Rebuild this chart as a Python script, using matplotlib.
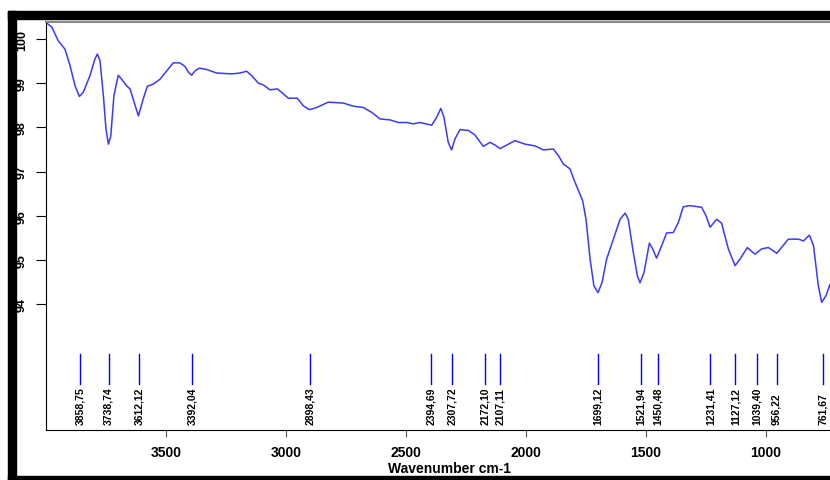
import matplotlib.pyplot as plt
from matplotlib.patches import Rectangle

# espectro (numero de onda em cm-1, transmitancia %)
wavenumber = [3997, 3976, 3949, 3921, 3900, 3879, 3861, 3845, 3817, 3796, 3786, 3775,
              3761, 3750, 3740, 3730, 3717, 3699, 3685, 3664, 3650, 3633, 3615, 3595,
              3578, 3553, 3525, 3497, 3470, 3442, 3421, 3407, 3393, 3379, 3361, 3330,
              3289, 3226, 3192, 3164, 3143, 3115, 3094, 3067, 3036, 3018, 2990, 2953,
              2928, 2903, 2872, 2824, 2761, 2720, 2678, 2643, 2608, 2567, 2532, 2497,
              2469, 2442, 2393, 2372, 2355, 2342, 2324, 2310, 2296, 2275, 2240, 2213,
              2178, 2150, 2129, 2108, 2080, 2046, 2004, 1962, 1928, 1886, 1865, 1844,
              1817, 1796, 1764, 1750, 1733, 1717, 1700, 1683, 1664, 1636, 1608, 1587,
              1574, 1553, 1536, 1525, 1508, 1486, 1472, 1456, 1435, 1414, 1386, 1365,
              1345, 1317, 1268, 1250, 1233, 1205, 1185, 1157, 1129, 1108, 1078, 1046,
              1018, 990, 955, 907, 865, 844, 819, 802, 782, 768, 750, 733]
transmittance = [100.36, 100.27, 99.96, 99.77, 99.40, 98.94, 98.70, 98.79, 99.17, 99.55, 99.66, 99.51,
                 98.72, 97.96, 97.62, 97.81, 98.72, 99.18, 99.09, 98.94, 98.87, 98.57, 98.26, 98.64,
                 98.93, 98.98, 99.09, 99.28, 99.46, 99.46, 99.38, 99.25, 99.18, 99.28, 99.34, 99.31,
                 99.23, 99.21, 99.23, 99.27, 99.17, 99.00, 98.96, 98.85, 98.87, 98.79, 98.66, 98.66,
                 98.49, 98.40, 98.45, 98.57, 98.55, 98.48, 98.45, 98.34, 98.19, 98.17, 98.11, 98.11,
                 98.08, 98.11, 98.05, 98.23, 98.43, 98.23, 97.66, 97.49, 97.74, 97.95, 97.93, 97.83,
                 97.57, 97.66, 97.60, 97.52, 97.60, 97.70, 97.62, 97.58, 97.49, 97.51, 97.36, 97.17,
                 97.06, 96.76, 96.34, 95.92, 95.02, 94.41, 94.26, 94.49, 95.02, 95.47, 95.92, 96.06,
                 95.92, 95.17, 94.64, 94.48, 94.72, 95.38, 95.25, 95.04, 95.32, 95.61, 95.62, 95.85,
                 96.20, 96.23, 96.19, 96.00, 95.74, 95.92, 95.83, 95.25, 94.87, 95.02, 95.28, 95.13,
                 95.25, 95.28, 95.15, 95.47, 95.47, 95.43, 95.56, 95.32, 94.41, 94.04, 94.19, 94.45]

# picos marcados
peak_labels = ["3858.75", "3738.74", "3612.12", "3392.04", "2898.43", "2394.69", "2307.72",
               "2172.10", "2107.11", "1699.12", "1521.94", "1450.48", "1231.41", "1127.12",
               "1039.40", "956.22", "761.67"]

x_ticks = [3500, 3000, 2500, 2000, 1500, 1000]
y_ticks = [94, 95, 96, 97, 98, 99, 100]

W, H = 830, 481
fig = plt.figure(figsize=(W / 100, H / 100), dpi=100)
ax = fig.add_axes([46 / W, 50 / H, (W - 46) / W, 408 / H])

ax.plot(wavenumber, transmittance, color="#3a3aff", lw=1.1)

# linhas e rotulos dos picos
for lab in peak_labels:
    xp = float(lab)
    ax.plot([xp, xp], [92.19, 92.87], color="blue", lw=1)
    ax.text(xp, 91.28, lab.replace(".", ","), rotation=90, ha="center", va="bottom",
            fontsize=7.5, fontweight="bold", family="Liberation Sans")

ax.set_xlim(4000, 4000 - (W - 46) / 0.24)
ax.set_ylim(91.15, 100.385)

ax.set_xticks(x_ticks)
ax.set_xticklabels([str(v) for v in x_ticks], fontsize=10, fontweight="bold",
                   family="Liberation Sans")
ax.set_yticks(y_ticks)
ax.set_yticklabels([str(v) for v in y_ticks], fontsize=9, fontweight="bold",
                   family="Liberation Sans", rotation=90, va="center")
ax.tick_params(axis="x", length=5, color="#555555", pad=6)
ax.tick_params(axis="y", length=7, pad=6)

ax.set_xlabel("Wavenumber cm-1", fontsize=10, fontweight="bold", family="Liberation Sans")
ax.xaxis.set_label_coords((450 - 46) / (W - 46), -0.075)

ax.spines["right"].set_visible(False)
ax.spines["top"].set_color("#888888")
ax.spines["top"].set_linewidth(1.5)

# moldura preta da janela
fig.patches.append(Rectangle((8 / W, 0), 8 / W, (H - 12) / H, transform=fig.transFigure,
                             color="black", zorder=10))
fig.patches.append(Rectangle((8 / W, (H - 20) / H), (W - 8) / W, 8 / H, transform=fig.transFigure,
                             color="black", zorder=10))
fig.patches.append(Rectangle((8 / W, 0), (W - 8) / W, 4 / H, transform=fig.transFigure,
                             color="black", zorder=10))

fig.savefig("out.png", dpi=100)
